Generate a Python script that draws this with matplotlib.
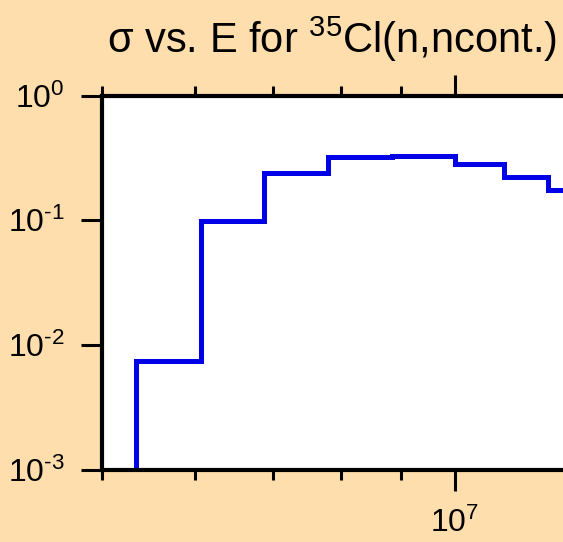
import matplotlib
matplotlib.use("Agg")
import math
import matplotlib.pyplot as plt
from matplotlib.ticker import LogLocator, FuncFormatter, NullFormatter, FixedLocator

plt.rcParams['font.family'] = ['Liberation Sans', 'DejaVu Sans']
plt.rcParams['mathtext.fontset'] = 'custom'
plt.rcParams['mathtext.rm'] = 'Liberation Sans'
plt.rcParams['mathtext.it'] = 'Liberation Sans'
plt.rcParams['mathtext.default'] = 'regular'
plt.rcParams['axes.unicode_minus'] = False

# Bin edges (eV) and cross-section values (b)
energy_edges = [5.35e6, 6.07e6, 6.87e6, 7.79e6, 8.83e6, 1.0e7, 1.10e7, 1.20e7, 1.40e7]
sigma_values = [7.45e-3, 0.0995, 0.238, 0.323, 0.330, 0.283, 0.222, 0.176]

title = "σ vs. E for $^{35}$Cl(n,ncont.)"
x_limits = (5e6, 2e7)
y_limits = (1e-3, 1.0)

W, H = 563, 542
fig = plt.figure(figsize=(W / 100, H / 100), dpi=100)
fig.patch.set_facecolor('#FFDEAD')

left_px, top_px, bottom_px = 102, 95.5, 470
# right spine lies beyond the visible picture (cropped)
decade_px = 1172.6
right_px = left_px + decade_px * (math.log10(x_limits[1]) - math.log10(x_limits[0]))
ax = fig.add_axes([left_px / W, 1 - bottom_px / H, (right_px - left_px) / W, (bottom_px - top_px) / H])
ax.set_facecolor('white')

xs = [energy_edges[0]] + energy_edges
ys = [1e-6] + sigma_values + [sigma_values[-1]]
ax.plot(xs, ys, drawstyle='steps-post', color='#0000E6', lw=3.6, solid_joinstyle='miter')

ax.set_xscale('log')
ax.set_yscale('log')
ax.set_xlim(*x_limits)
ax.set_ylim(*y_limits)

for s in ax.spines.values():
    s.set_linewidth(3.0)
    s.set_color('black')


def pow_label(v, pos=None):
    e = int(round(math.log10(v)))
    es = str(e).replace('-', '\u2010')
    return "$10^{%s}$" % es


ax.xaxis.set_major_locator(LogLocator(base=10, numticks=10))
ax.xaxis.set_major_formatter(FuncFormatter(pow_label))
ax.xaxis.set_minor_locator(LogLocator(base=10, subs=[2, 3, 4, 5, 6, 7, 8, 9], numticks=10))
ax.xaxis.set_minor_formatter(NullFormatter())
ax.yaxis.set_major_locator(LogLocator(base=10, numticks=10))
ax.yaxis.set_major_formatter(FuncFormatter(pow_label))
ax.yaxis.set_minor_locator(FixedLocator([]))

ax.tick_params(axis='x', which='major', direction='out', length=15, width=2.2,
               top=True, bottom=True, labelsize=23, pad=12, colors='black')
ax.tick_params(axis='x', which='minor', direction='out', length=7.5, width=2.2,
               top=True, bottom=True)
ax.tick_params(axis='y', which='major', direction='out', length=15, width=2.2,
               left=True, right=True, labelsize=23, pad=12)

fig.text(107 / W, 1 - 53 / H, title, fontsize=30, ha='left', va='baseline', color='black')

fig.savefig('out.png', dpi=100, facecolor=fig.get_facecolor())
